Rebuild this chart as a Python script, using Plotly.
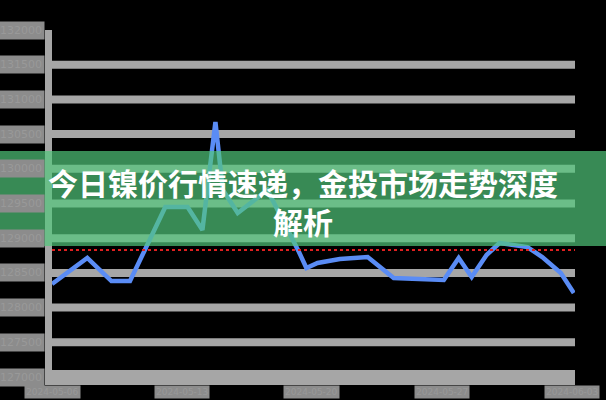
import plotly.graph_objects as go

# ---- data ----
days = [0, 1.9, 3.2, 4.2, 5.0, 6.1, 7.3, 8.1, 8.8, 9.2, 10.0, 11.6, 13.3, 13.7, 14.3,
        15.5, 17.0, 17.7, 18.4, 21.1, 21.9, 22.6, 23.4, 24.1, 25.6, 26.4, 27.4, 28.1]
price = [128340, 128715, 128383, 128383, 128830, 129450, 129450, 129118, 130674, 129695,
         129363, 129695, 128801, 128571, 128643, 128700, 128729, 128571, 128427, 128398,
         128715, 128441, 128758, 128931, 128873, 128729, 128499, 128210]
ref_level = 128830
y_ticks = [127000, 127500, 128000, 128500, 129000, 129500, 130000, 130500, 131000, 131500, 132000]
x_ticks = [0, 7, 14, 21, 28]
x_labels = ["2024-05-06", "2024-05-13", "2024-05-20", "2024-05-27", "2024-06-03"]
title_text = "今日镍价行情速递，金投市场走势深度<br>解析"

# ---- layout constants ----
W, H = 606, 400
ML, MR, MT, MB = 52, 31, 30, 15
PW, PH = W - ML - MR, H - MT - MB
GRID = "#a6a6a6"
BLOCK = "#8c8c8c"

fig = go.Figure()
fig.add_trace(go.Scatter(x=days, y=price, mode="lines",
                         line=dict(color="#5a8cf5", width=4.5), hoverinfo="skip"))

fig.add_hline(y=ref_level, line=dict(color="#e02020", width=2, dash="dot"), layer="above")

shapes = []
# gridlines (skip top tick)
for v in y_ticks[:-1]:
    shapes.append(dict(type="line", xref="paper", x0=0, x1=1, yref="y", y0=v, y1=v,
                       line=dict(color=GRID, width=8), layer="below"))
# y axis bar
shapes.append(dict(type="rect", xref="paper", x0=-7 / PW, x1=0, yref="paper", y0=0, y1=1,
                   fillcolor=GRID, line=dict(width=0), layer="below"))
# x axis baseline band
shapes.append(dict(type="rect", xref="paper", x0=-7 / PW, x1=1, yref="paper", y0=0, y1=15 / PH,
                   fillcolor=GRID, line=dict(width=0), layer="below"))
# title banner
shapes.append(dict(type="rect", xref="paper", x0=-ML / PW, x1=1 + MR / PW, yref="paper",
                   y0=(H - MB - 246) / PH, y1=(H - MB - 151) / PH,
                   fillcolor="rgba(81,200,123,0.69)", line=dict(width=0), layer="above"))

annotations = []
for v in y_ticks:
    annotations.append(dict(xref="paper", x=0, xshift=-7, xanchor="right", yref="y", y=v,
                            yanchor="middle", text=f"{v}", showarrow=False,
                            font=dict(size=11, color="#999999", family="DejaVu Sans"),
                            bgcolor=BLOCK, borderpad=2))
for xv, lab in zip(x_ticks, x_labels):
    annotations.append(dict(xref="x", x=xv, xanchor="center", yref="paper", y=0,
                            yanchor="top", text=lab, showarrow=False,
                            font=dict(size=9, color="#999999", family="DejaVu Sans"),
                            bgcolor=BLOCK, borderpad=1))
annotations.append(dict(xref="paper", x=(W / 2 - ML) / PW, xanchor="center",
                        yref="paper", y=(H - MB - 201) / PH, yanchor="middle",
                        text=f"<b>{title_text}</b>", showarrow=False,
                        font=dict(size=30, color="white", family="Noto Sans CJK SC")))

fig.update_layout(
    width=W, height=H,
    margin=dict(l=ML, r=MR, t=MT, b=MB, pad=0),
    paper_bgcolor="black", plot_bgcolor="black",
    showlegend=False,
    xaxis=dict(range=[0, (PW) / 18.57], showgrid=False, zeroline=False, showticklabels=False,
               showline=False, ticks=""),
    yaxis=dict(range=[126885, 132000], showgrid=False, zeroline=False, showticklabels=False,
               showline=False, ticks=""),
    shapes=shapes, annotations=annotations,
)

fig.write_html("out.html", config={"displayModeBar": False},
               post_script="document.body.style.margin='0';document.body.style.background='black';")
